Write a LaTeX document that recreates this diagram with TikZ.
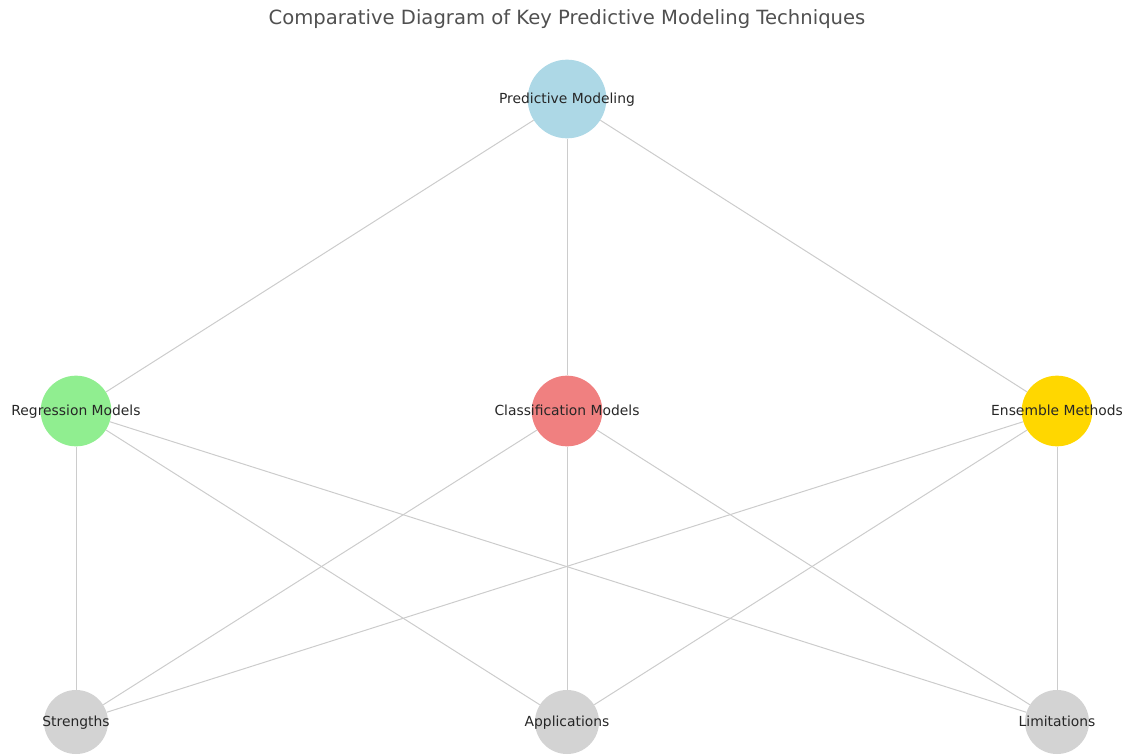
\documentclass[tikz,border=0pt]{standalone}
\usepackage{fontspec}
\setmainfont{DejaVu Sans}
\definecolor{predc}{HTML}{ADD8E6}
\definecolor{regc}{HTML}{90EE90}
\definecolor{clsc}{HTML}{F08080}
\definecolor{ensc}{HTML}{FFD700}
\definecolor{attc}{HTML}{D3D3D3}
\definecolor{edgec}{HTML}{CCCCCC}
\definecolor{titlec}{HTML}{505050}
\begin{document}
\begin{tikzpicture}[x=0.75pt,y=-0.75pt,
  bignode/.style={circle,minimum size=59pt,inner sep=0pt},
  midnode/.style={circle,minimum size=53pt,inner sep=0pt},
  smallnode/.style={circle,minimum size=48pt,inner sep=0pt},
  lbl/.style={inner sep=0pt,text=black!85,font=\fontsize{10.4}{12}\selectfont,text height=1.6ex,text depth=0.3ex},
  edge/.style={draw=edgec,line width=0.75pt}]
\useasboundingbox (0,0) rectangle (1126,755);
\node[font=\fontsize{14.7}{17}\selectfont,text=titlec] (title) at (567,19) {Comparative Diagram of Key Predictive Modeling Techniques};
% nodes (circles)
\node[bignode,fill=predc] (pred) at (567,99) {};
\node[midnode,fill=regc] (reg) at (76,411) {};
\node[midnode,fill=clsc] (cls) at (567,411) {};
\node[midnode,fill=ensc] (ens) at (1057,411) {};
\node[smallnode,fill=attc] (str) at (76,722) {};
\node[smallnode,fill=attc] (app) at (567,722) {};
\node[smallnode,fill=attc] (lim) at (1057,722) {};
% edges
\foreach \a/\b in {pred/reg,pred/cls,pred/ens,reg/str,reg/app,reg/lim,cls/str,cls/app,cls/lim,ens/str,ens/app,ens/lim}
  \draw[edge] (\a) -- (\b);
% labels
\node[lbl] (predl) at (pred.center) {Predictive Modeling};
\node[lbl] (regl) at (reg.center) {Regression Models};
\node[lbl] (clsl) at (cls.center) {Classification Models};
\node[lbl] (ensl) at (ens.center) {Ensemble Methods};
\node[lbl] (strl) at (str.center) {Strengths};
\node[lbl] (appl) at (app.center) {Applications};
\node[lbl] (liml) at (lim.center) {Limitations};
\end{tikzpicture}
\end{document}
